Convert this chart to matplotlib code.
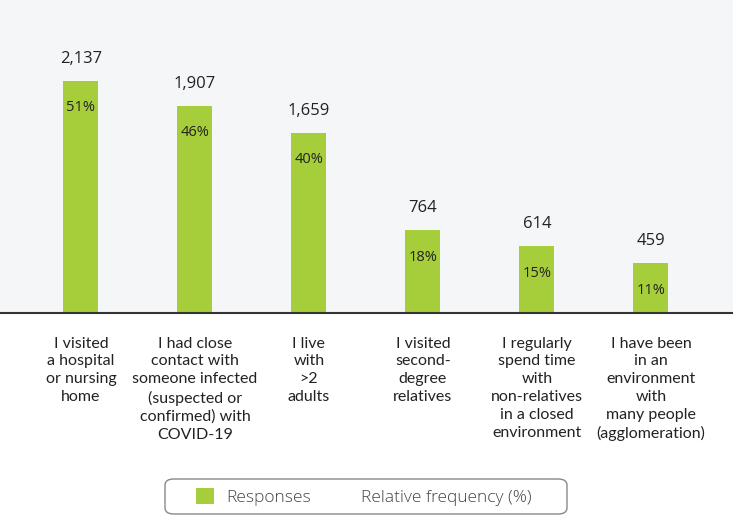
import matplotlib
matplotlib.use("Agg")
import matplotlib.pyplot as plt
from matplotlib.patches import Patch, FancyBboxPatch

plt.rcParams['font.family'] = ['Open Sans', 'DejaVu Sans']

categories = [
    "I visited\na hospital\nor nursing\nhome",
    "I had close\ncontact with\nsomeone infected\n(suspected or\nconfirmed) with\nCOVID-19",
    "I live\nwith\n>2\nadults",
    "I visited\nsecond-\ndegree\nrelatives",
    "I regularly\nspend time\nwith\nnon-relatives\nin a closed\nenvironment",
    "I have been\nin an\nenvironment\nwith\nmany people\n(agglomeration)",
]
responses = [2137, 1907, 1659, 764, 614, 459]
rel_freq = [51, 46, 40, 18, 15, 11]

green = "#a6cd3a"
W, H = 733, 516

fig = plt.figure(figsize=(W / 100, H / 100), dpi=100)
fig.patch.set_facecolor("white")
ax = fig.add_axes([0, 1 - 313 / H, 1, 313 / H])
ax.set_facecolor("#f5f6f8")

x = list(range(len(responses)))
ax.bar(x, responses, width=0.307, color=green, zorder=2)

for xi, r, p in zip(x, responses, rel_freq):
    ax.text(xi, r + 130, f"{r:,}", ha="center", va="bottom", fontsize=12, color="#222222")
    ax.text(xi, r - 180, f"{p}%", ha="center", va="top", fontsize=10.5, color="#222222")

ax.set_xlim(-0.71, 5.72)
ax.set_ylim(0, 2882)
ax.set_yticks([])
ax.set_xticks(x)
ax.set_xticklabels(categories, fontsize=11.5, color="#222222", linespacing=1.35,
                   family=['Lato', 'DejaVu Sans'])
ax.tick_params(axis="x", length=0, pad=17)
for s in ["top", "left", "right"]:
    ax.spines[s].set_visible(False)
ax.spines["bottom"].set_color("#333333")
ax.spines["bottom"].set_linewidth(1.5)

# legend box drawn separately so the inner padding can match
box = FancyBboxPatch((165 / W, 1 - 514 / H), 402 / W, 35 / H,
                     boxstyle="round,pad=0,rounding_size=0.012",
                     transform=fig.transFigure, facecolor="white",
                     edgecolor="#888888", linewidth=1.0)
fig.add_artist(box)

handles = [Patch(facecolor=green, edgecolor="none"),
           Patch(facecolor="none", edgecolor="none")]
leg = fig.legend(handles, ["Responses", "Relative frequency (%)"], ncol=2,
                 loc="center", bbox_to_anchor=(364 / W, 1 - 497 / H),
                 frameon=False, fontsize=12.5, handlelength=1.0,
                 handleheight=1.0, columnspacing=1.2, handletextpad=0.7,
                 borderaxespad=0)
for t in leg.get_texts():
    t.set_color("#444444")
    t.set_fontweight("light")

fig.savefig("out.png", dpi=100)
